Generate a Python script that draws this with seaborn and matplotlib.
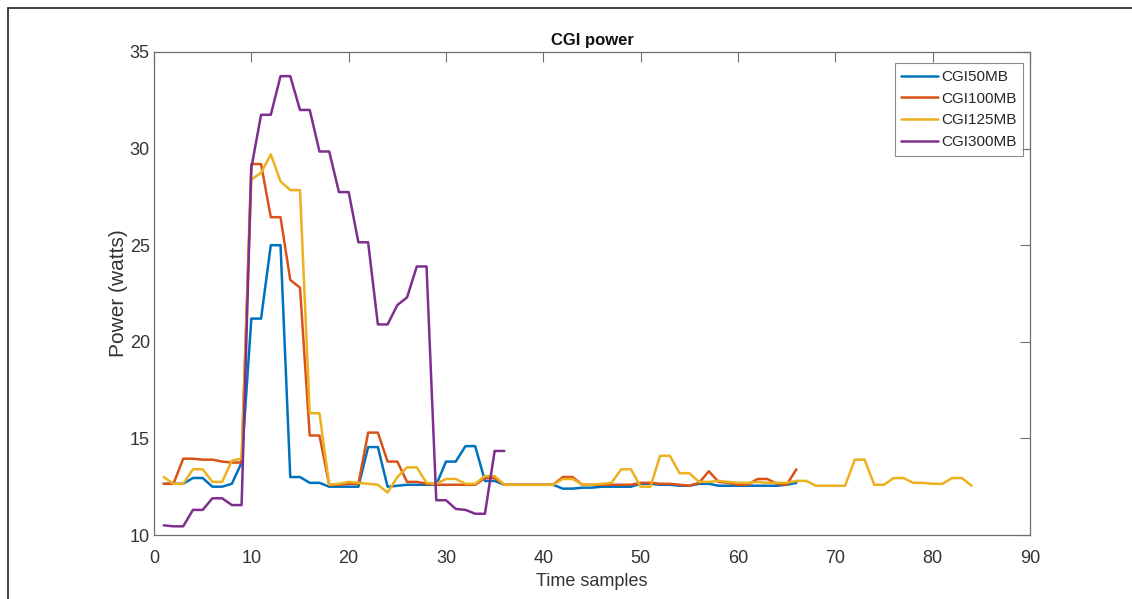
import numpy as np
import pandas as pd
import matplotlib
matplotlib.use("Agg")
import matplotlib.pyplot as plt
from matplotlib.lines import Line2D
import seaborn as sns

series_names = ["CGI50MB", "CGI100MB", "CGI125MB", "CGI300MB"]

cgi50 = [12.65, 12.65, 12.65, 12.95, 12.95, 12.5, 12.5, 12.65, 13.75, 21.2,
         21.2, 25.0, 25.0, 13.0, 13.0, 12.7, 12.7, 12.5, 12.5, 12.5,
         12.5, 14.55, 14.55, 12.5, 12.55, 12.6, 12.6, 12.6, 12.6, 13.8,
         13.8, 14.6, 14.6, 12.8, 12.8, 12.6, 12.6, 12.6, 12.6, 12.6,
         12.6, 12.4, 12.4, 12.45, 12.45, 12.5, 12.5, 12.5, 12.5, 12.65,
         12.65, 12.6, 12.6, 12.55, 12.55, 12.65, 12.65, 12.55, 12.55, 12.55,
         12.55, 12.55, 12.55, 12.55, 12.6, 12.7]

cgi100 = [12.65, 12.65, 13.95, 13.95, 13.9, 13.9, 13.8, 13.75, 13.75, 29.2,
          29.2, 26.45, 26.45, 23.2, 22.8, 15.15, 15.15, 12.6, 12.6, 12.65,
          12.65, 15.3, 15.3, 13.8, 13.8, 12.75, 12.75, 12.65, 12.6, 12.6,
          12.6, 12.6, 12.6, 12.95, 12.95, 12.6, 12.6, 12.6, 12.6, 12.6,
          12.6, 13.0, 13.0, 12.6, 12.6, 12.6, 12.6, 12.6, 12.6, 12.7,
          12.7, 12.65, 12.65, 12.6, 12.55, 12.7, 13.3, 12.75, 12.7, 12.6,
          12.6, 12.9, 12.9, 12.65, 12.6, 13.4]

cgi125 = [13.0, 12.65, 12.65, 13.4, 13.4, 12.75, 12.75, 13.85, 13.95, 28.4,
          28.75, 29.7, 28.3, 27.85, 27.85, 16.3, 16.3, 12.6, 12.65, 12.75,
          12.7, 12.65, 12.6, 12.2, 13.0, 13.5, 13.5, 12.7, 12.65, 12.9,
          12.9, 12.65, 12.65, 13.05, 13.05, 12.6, 12.6, 12.6, 12.6, 12.6,
          12.6, 12.9, 12.9, 12.6, 12.6, 12.65, 12.7, 13.4, 13.4, 12.5,
          12.5, 14.1, 14.1, 13.2, 13.2, 12.75, 12.75, 12.8, 12.75, 12.7,
          12.7, 12.75, 12.7, 12.7, 12.7, 12.8, 12.8, 12.55, 12.55, 12.55,
          12.55, 13.9, 13.9, 12.6, 12.6, 12.95, 12.95, 12.7, 12.7, 12.65,
          12.65, 12.95, 12.95, 12.55]

cgi300 = [10.5, 10.45, 10.45, 11.3, 11.3, 11.9, 11.9, 11.55, 11.55, 29.0,
          31.75, 31.75, 33.75, 33.75, 32.0, 32.0, 29.85, 29.85, 27.75, 27.75,
          25.15, 25.15, 20.9, 20.9, 21.9, 22.3, 23.9, 23.9, 11.8, 11.8,
          11.35, 11.3, 11.1, 11.1, 14.35, 14.35]

x_ticks = [0, 10, 20, 30, 40, 50, 60, 70, 80, 90]
y_ticks = [10, 15, 20, 25, 30, 35]

frames = []
for name, vals in zip(series_names, [cgi50, cgi100, cgi125, cgi300]):
    frames.append(pd.DataFrame({"sample": np.arange(1, len(vals) + 1),
                                "power": vals, "series": name}))
df = pd.concat(frames, ignore_index=True)

sns.set_style("white")
plt.rcParams["font.family"] = ["Liberation Sans", "DejaVu Sans"]

palette = {"CGI50MB": "#0072BD", "CGI100MB": "#D95319",
           "CGI125MB": "#EDB120", "CGI300MB": "#7E2F8E"}

fig = plt.figure(figsize=(11.32, 5.99), dpi=100)
ax = fig.add_axes([154 / 1132, 1 - 535 / 599, 876 / 1132, 483 / 599])

sns.lineplot(data=df, x="sample", y="power", hue="series", hue_order=series_names,
             palette=palette, linewidth=1.8, ax=ax, legend=False)

ax.set_xlim(0, 90)
ax.set_ylim(10, 35)
ax.set_xticks(x_ticks)
ax.set_yticks(y_ticks)
ax.tick_params(direction="in", length=7, width=0.8, colors="#6e6e6e",
               top=True, right=True, labelsize=13, labelcolor="#333333")
ax.tick_params(axis="x", pad=11)
ax.tick_params(axis="y", pad=3)
for s in ax.spines.values():
    s.set_visible(True)
    s.set_color("#6e6e6e")
    s.set_linewidth(0.9)

ax.set_xlabel("Time samples", fontsize=13, color="#333333", labelpad=4)
ax.set_ylabel("Power (watts)", fontsize=15, color="#333333", labelpad=1)
ax.set_title("CGI power", fontsize=12, fontweight="bold", color="#111111", pad=5)

handles = [Line2D([0], [0], color=palette[n], linewidth=1.8) for n in series_names]
leg = ax.legend(handles, series_names, loc="upper right", bbox_to_anchor=(0.9925, 0.977),
                fontsize=11, frameon=True, fancybox=False, handlelength=2.4,
                handletextpad=0.2, borderpad=0.45, labelspacing=0.5, borderaxespad=0)
leg.get_frame().set_edgecolor("#6e6e6e")
leg.get_frame().set_linewidth(0.8)

# outer figure frame
fig.add_artist(Line2D([8 / 1132, 8 / 1132], [0, 1 - 8 / 599], transform=fig.transFigure,
                      color="#222222", linewidth=1.2))
fig.add_artist(Line2D([8 / 1132, 1], [1 - 8 / 599, 1 - 8 / 599], transform=fig.transFigure,
                      color="#222222", linewidth=1.2))

fig.savefig("out.png", dpi=100)
